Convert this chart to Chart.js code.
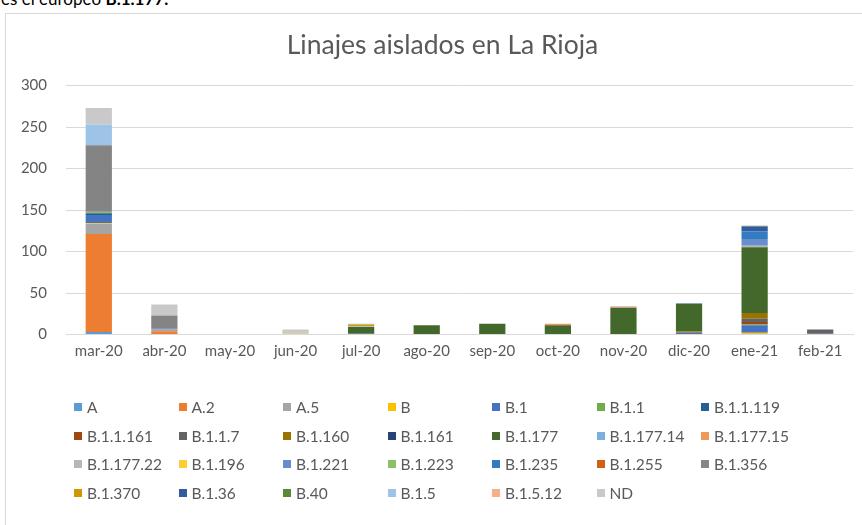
<!DOCTYPE html>
<html><head><meta charset="utf-8">
<script src="https://cdn.jsdelivr.net/npm/chart.js@4/dist/chart.umd.min.js"></script>
<style>
html,body{margin:0;padding:0;background:#fff;width:862px;height:525px;overflow:hidden;font-family:Lato,"Open Sans",sans-serif}
#frame{position:absolute;left:5px;top:13px;width:900px;height:600px;border:1px solid #d9d9d9;box-sizing:border-box}
#top{position:absolute;left:1px;top:-12px;font-size:17px;color:#000;white-space:nowrap;font-family:Lato,sans-serif}
#wrap{position:absolute;left:0;top:0;width:862px;height:525px}
#legend{position:absolute;left:0;top:0;width:862px;height:525px}
.item{position:absolute;display:flex;align-items:center;height:20px;font-size:15.5px;color:#595959;white-space:nowrap}
.sw{width:8px;height:8px;margin-right:5px;flex:none}
</style></head>
<body>
<div id="top">es el europeo <b>B.1.177.</b></div>
<div id="frame"></div>
<div id="wrap"><canvas id="c" width="862" height="525"></canvas></div>
<div id="legend"></div>
<script>
const categories = ['mar-20','abr-20','may-20','jun-20','jul-20','ago-20','sep-20','oct-20','nov-20','dic-20','ene-21','feb-21'];
const yTicks = [0,50,100,150,200,250,300];

// values per lineage, months mar-20 .. feb-21
const vA        = [3,0,0,0,0,0,0,0,0,0,0,0];
const vA2       = [118,4,0,0,0,0,0,0,0,0,0,0];
const vA5       = [12,2,0,0,0,0,0,0,0,0,0,0];
const vB        = [1,0,0,1,0,0,0,0,0,0,2,0];
const vB1       = [10,1,0,0,1,0,0,0,0,2,9,1];
const vB11      = [0,0,0,0,0,0,0,0,0,0,1,0];
const vB11119   = [2,0,0,0,0,0,0,0,0,0,0,0];
const vB11161   = [0,0,0,0,0,0,0,0,0,0,3,0];
const vB117     = [0,0,0,0,0,0,0,0,0,0,4,5];
const vB1160    = [0,0,0,0,0,0,0,0,0,2,7,0];
const vB1161    = [0,0,0,0,0,0,0,0,0,0,0,0];
const vB1177    = [0,0,0,0,8,11,13,11,32,33,79,0];
const vB117714  = [0,0,0,0,0,0,0,0,0,1,0,0];
const vB117715  = [0,0,0,0,0,0,0,2,1,0,0,0];
const vB117722  = [0,0,0,0,1,0,0,0,0,0,2,0];
const vB1196    = [0,0,0,0,0,0,0,0,0,0,0,0];
const vB1221    = [0,0,0,0,0,0,0,0,0,0,8,0];
const vB1223    = [2,0,0,0,0,0,0,0,0,0,0,0];
const vB1235    = [1,0,0,0,0,0,0,0,0,0,9,0];
const vB1255    = [1,0,0,0,0,0,0,0,0,0,0,0];
const vB1356    = [78,16,0,0,0,0,0,0,0,0,0,0];
const vB1370    = [0,0,0,0,2,0,0,0,0,0,0,0];
const vB136     = [0,0,0,0,0,0,0,0,0,0,6,0];
const vB40      = [0,0,0,0,0,0,0,0,0,0,1,0];
const vB15      = [25,0,0,0,1,0,0,0,1,0,0,0];
const vB1512    = [0,0,0,0,0,0,0,0,0,0,0,0];
const vND       = [20,13,0,5,0,0,0,0,0,0,0,0];

const lineages = ['A','A.2','A.5','B','B.1','B.1.1','B.1.1.119','B.1.1.161','B.1.1.7','B.1.160','B.1.161','B.1.177','B.1.177.14','B.1.177.15','B.1.177.22','B.1.196','B.1.221','B.1.223','B.1.235','B.1.255','B.1.356','B.1.370','B.1.36','B.40','B.1.5','B.1.5.12','ND'];
const seriesValues = [vA,vA2,vA5,vB,vB1,vB11,vB11119,vB11161,vB117,vB1160,vB1161,vB1177,vB117714,vB117715,vB117722,vB1196,vB1221,vB1223,vB1235,vB1255,vB1356,vB1370,vB136,vB40,vB15,vB1512,vND];
const colors = ['#5B9BD5','#ED7D31','#A5A5A5','#FFC000','#4472C4','#70AD47','#255E91','#9E480E','#636363','#997300','#264478','#43682B','#7CAFDD','#F1975A','#B7B7B7','#FFCD33','#698ED0','#8CC168','#327DC2','#D26012','#848484','#CC9A00','#335AA1','#5A8A39','#9DC3E6','#F4B183','#C9C9C9'];

const datasets = lineages.map((name,i)=>({
  label:name, data:seriesValues[i], backgroundColor:colors[i], borderWidth:0,
  barPercentage:0.4, categoryPercentage:1.0
}));

// center the title over the whole frame rather than the plot box
const shiftTitle = {
  id:'shiftTitle',
  afterLayout(chart){ if(chart.titleBlock){ chart.titleBlock.left = 32; } }
};

const FONT = 'Lato, "Open Sans", sans-serif';
new Chart(document.getElementById('c'),{
  type:'bar',
  data:{labels:categories,datasets},
  plugins:[shiftTitle],
  options:{
    responsive:false, animation:false,
    layout:{padding:{left:0,right:9,top:0,bottom:160.5}},
    plugins:{
      legend:{display:false}, tooltip:{enabled:false},
      title:{display:true,text:'Linajes aislados en La Rioja',color:'#595959',
        font:{family:FONT,size:26.5,weight:'normal',lineHeight:1.2},padding:{top:29.1,bottom:24.6}}
    },
    scales:{
      x:{stacked:true,grid:{display:false,drawTicks:false},border:{color:'#d9d9d9'},
        ticks:{color:'#595959',font:{family:FONT,size:15},padding:8,maxRotation:0,autoSkip:false},
        afterFit(s){s.height=30;}},
      y:{stacked:true,min:0,max:300,
        afterBuildTicks(s){s.ticks=yTicks.map(v=>({value:v}));},
        ticks:{color:'#595959',font:{family:FONT,size:15},padding:19},
        grid:{color:'#d9d9d9',drawTicks:false},border:{display:false},
        afterFit(s){s.width=66;}}
    }
  }
});

// legend grid: 7 columns, 4 rows
const leg = document.getElementById('legend');
lineages.forEach((name,i)=>{
  const col=i%7,row=Math.floor(i/7);
  const d=document.createElement('div');
  d.className='item';
  d.style.left=(74+col*104.5)+'px';
  d.style.top=(407+row*28.5-10)+'px';
  const sw=document.createElement('span');sw.className='sw';sw.style.background=colors[i];
  d.appendChild(sw);d.appendChild(document.createTextNode(name));
  leg.appendChild(d);
});
</script>
</body></html>
